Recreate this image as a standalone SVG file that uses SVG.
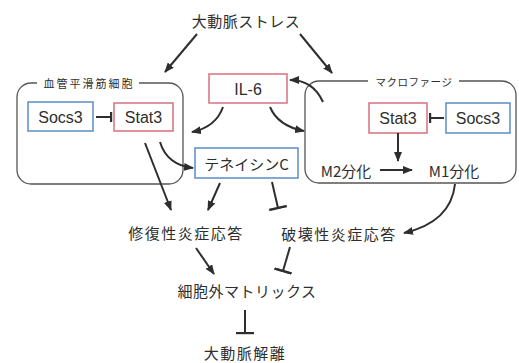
<svg xmlns="http://www.w3.org/2000/svg" width="519" height="363" viewBox="0 0 519 363">
<defs>
<style>
text{font-family:"Noto Sans CJK JP","Liberation Sans",sans-serif;fill:#2e2e2e;text-anchor:middle;dominant-baseline:central}
.lat{font-family:"Liberation Sans","Noto Sans CJK JP",sans-serif;font-size:16px}
.big{font-size:15px;letter-spacing:1.5px}
.lab{font-size:11px;letter-spacing:2px}
.blue{fill:#fff;stroke:#5b8cc8;stroke-width:1.5}
.red{fill:#fff;stroke:#d9707e;stroke-width:1.5}
.cont{fill:none;stroke:#555;stroke-width:1.3}
.c path,.c line{fill:none;stroke:#2e2e2e;stroke-width:2}
.arr{marker-end:url(#ah)}
.inh{marker-end:url(#tb)}
.inhs{marker-end:url(#tbs)}
</style>
<marker id="ah" viewBox="0 0 10 8" refX="9" refY="4" markerWidth="10" markerHeight="8" markerUnits="userSpaceOnUse" orient="auto">
<path d="M0,0 L10,4 L0,8 Z" fill="#2e2e2e"/>
</marker>
<marker id="tb" viewBox="-1.5 -9 3 18" refX="0" refY="0" markerWidth="3" markerHeight="18" markerUnits="userSpaceOnUse" orient="auto">
<path d="M0,-9 L0,9" stroke="#2e2e2e" stroke-width="2.4"/>
</marker>
<marker id="tbs" viewBox="-1.5 -5 3 10" refX="0" refY="0" markerWidth="3" markerHeight="10" markerUnits="userSpaceOnUse" orient="auto">
<path d="M0,-5 L0,5" stroke="#2e2e2e" stroke-width="2.4"/>
</marker>
</defs>
<rect width="519" height="363" fill="#fff"/>

<g id="title"><text x="246" y="20" style="font-size:15px;letter-spacing:0.5px">大動脈ストレス</text></g>

<g id="vsmc">
<path class="cont" d="M37,83 H31 A14,14 0 0 0 17,97 V170 A14,14 0 0 0 31,184 H169 A14,14 0 0 0 183,170 V97 A14,14 0 0 0 169,83 H139"/>
<text class="lab" x="89" y="83">血管平滑筋細胞</text>
</g>
<g id="macro">
<path class="cont" d="M368,81 H319 A14,14 0 0 0 305,95 V169 A14,14 0 0 0 319,183 H502 A14,14 0 0 0 516,169 V95 A14,14 0 0 0 502,81 H459"/>
<text x="414" y="81" style="font-size:10.5px;letter-spacing:0.5px">マクロファージ</text>
</g>

<g id="socs3L"><rect class="blue" x="28" y="102" width="65" height="29"/><text class="lat" x="60.5" y="117">Socs3</text></g>
<g id="stat3L"><rect class="red" x="114" y="103" width="59" height="28"/><text class="lat" x="143.5" y="117">Stat3</text></g>
<g id="il6"><rect class="red" x="209" y="74" width="78" height="29"/><text class="lat" x="248" y="89">IL-6</text></g>
<g id="tnc"><rect class="blue" x="195" y="148" width="103" height="30"/><text x="246.5" y="163" style="font-size:15px">テネイシンC</text></g>
<g id="stat3R"><rect class="red" x="369" y="103" width="58" height="30"/><text class="lat" x="398" y="118">Stat3</text></g>
<g id="socs3R"><rect class="blue" x="446" y="103" width="64" height="30"/><text class="lat" x="478" y="118">Socs3</text></g>
<g id="m2"><text x="346" y="170" style="font-size:15px">M2分化</text></g>
<g id="m1"><text x="454" y="170" style="font-size:15px">M1分化</text></g>
<g id="repair"><text class="big" x="186" y="232">修復性炎症応答</text></g>
<g id="destroy"><text class="big" x="339" y="233">破壊性炎症応答</text></g>
<g id="ecm"><text x="247" y="290" style="font-size:15px;letter-spacing:0.5px">細胞外マトリックス</text></g>
<g id="dissection"><text class="big" x="245" y="352">大動脈解離</text></g>

<g id="connectors" class="c">
<line class="arr" x1="197" y1="34" x2="165" y2="72"/>
<line class="arr" x1="300" y1="34" x2="332" y2="73"/>
<path class="arr" d="M223,107 Q216,127 192,132"/>
<path class="arr" d="M270,107 Q278,126 304,131"/>
<path class="arr" d="M323,102 Q313,80 290,80"/>
<path class="arr" d="M160,142 Q167,165 193,168"/>
<line class="arr" x1="145" y1="143" x2="171" y2="210"/>
<line class="arr" x1="220" y1="183" x2="208" y2="210"/>
<line class="inh" x1="272" y1="182" x2="278" y2="208"/>
<path class="arr" d="M455,184 Q451,222 404,233"/>
<line class="arr" x1="196" y1="248" x2="214" y2="274"/>
<line class="inh" x1="290" y1="247" x2="283" y2="271"/>
<line class="inh" x1="245" y1="310" x2="245" y2="333"/>
<line class="inhs" x1="96" y1="117" x2="111" y2="117"/>
<line class="inhs" x1="444" y1="118" x2="430" y2="118"/>
<line class="arr" x1="398" y1="133" x2="398" y2="161"/>
<line class="arr" x1="380" y1="170" x2="412" y2="170"/>
</g>
</svg>
